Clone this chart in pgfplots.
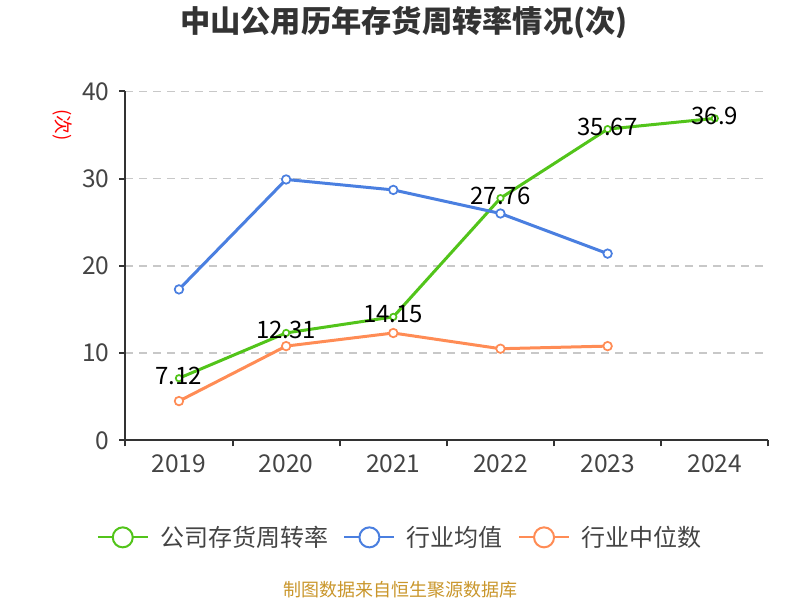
\documentclass[border=0pt]{standalone}
\usepackage{fontspec}
\setmainfont{Noto Sans CJK SC}
\usepackage{pgfplots}
\pgfplotsset{compat=1.18}
\definecolor{cgreen}{HTML}{52C41A}
\definecolor{cblue}{HTML}{4A7FE0}
\definecolor{corange}{HTML}{FF8C55}
\definecolor{cgrid}{HTML}{C8C8C8}
\definecolor{caxis}{HTML}{333333}
\definecolor{ctext}{HTML}{444444}
\definecolor{csrc}{HTML}{C9962B}
\begin{document}
\begin{tikzpicture}[x=0.75bp,y=0.75bp]
\path[use as bounding box] (0,0) rectangle (800,600);
\begin{axis}[
    at={(117,183)}, anchor=south west,
    scale only axis, width=482.25bp, height=261.75bp,
    xmin=-0.5, xmax=5.5, ymin=0, ymax=40,
    axis x line*=bottom, axis y line*=left,
    axis line style={-, caxis, line width=1.5bp},
    xtick={0,...,5},
    xticklabels={2019,2020,2021,2022,2023,2024},
    major x tick style={draw=none},
    minor xtick={-0.5,0.5,...,5.5},
    minor x tick style={caxis, line width=1.5bp},
    minor tick length=4.5bp,
    ytick={0,10,20,30,40},
    ytick style={caxis, line width=1.5bp},
    major tick length=4.5bp,
    tick align=outside,
    ymajorgrids,
    grid style={cgrid, line width=1.1bp, dash pattern=on 6bp off 4.5bp},
    /pgf/number format/assume math mode=true,
    ticklabel style={font=\fontsize{18.4bp}{20bp}\selectfont, text=ctext},
    xticklabel style={yshift=-3bp},
    yticklabel style={xshift=-4bp},
    legend style={at={(0.4277,-0.278)}, anchor=center, draw=none,
        legend columns=3, font=\fontsize{18bp}{20bp}\selectfont, text=ctext,
        /tikz/every odd column/.append style={column sep=6.5bp},
        /tikz/every even column/.append style={column sep=9.5bp}},
    legend image code/.code={
        \draw[line width=1.5bp] (0bp,0bp) -- (37.5bp,0bp);
        \draw[line width=1.5bp, fill=white] (18.75bp,0bp) circle (7.5bp);
    },
]
\addplot[cgreen, line width=2.25bp, mark=*, mark size=2.4bp,
    mark options={fill=white, line width=1.3bp},
    nodes near coords,
    every node near coord/.append style={anchor=center, yshift=2bp,
        text=black, font=\fontsize{18bp}{20bp}\selectfont}]
    coordinates {(0,7.12) (1,12.31) (2,14.15) (3,27.76) (4,35.67) (5,36.9)};
\addlegendentry{公司存货周转率}
\addplot[cblue, line width=2.25bp, mark=*, mark size=3.2bp,
    mark options={fill=white, line width=1.3bp}]
    coordinates {(0,17.3) (1,29.9) (2,28.7) (3,26.0) (4,21.4)};
\addlegendentry{行业均值}
\addplot[corange, line width=2.25bp, mark=*, mark size=3.2bp,
    mark options={fill=white, line width=1.3bp}]
    coordinates {(0,4.5) (1,10.8) (2,12.3) (3,10.5) (4,10.8)};
\addlegendentry{行业中位数}
\end{axis}
\node[font=\bfseries\fontsize{22.7bp}{25bp}\selectfont, text=caxis] at (404,577) {中山公用历年存货周转率情况(次)};
\node[rotate=-90, text=red, font=\fontsize{14bp}{16bp}\selectfont] at (63,475) {(次)};
\node[text=csrc, font=\fontsize{13.5bp}{15bp}\selectfont] at (400,10) {制图数据来自恒生聚源数据库};
\end{tikzpicture}
\end{document}
